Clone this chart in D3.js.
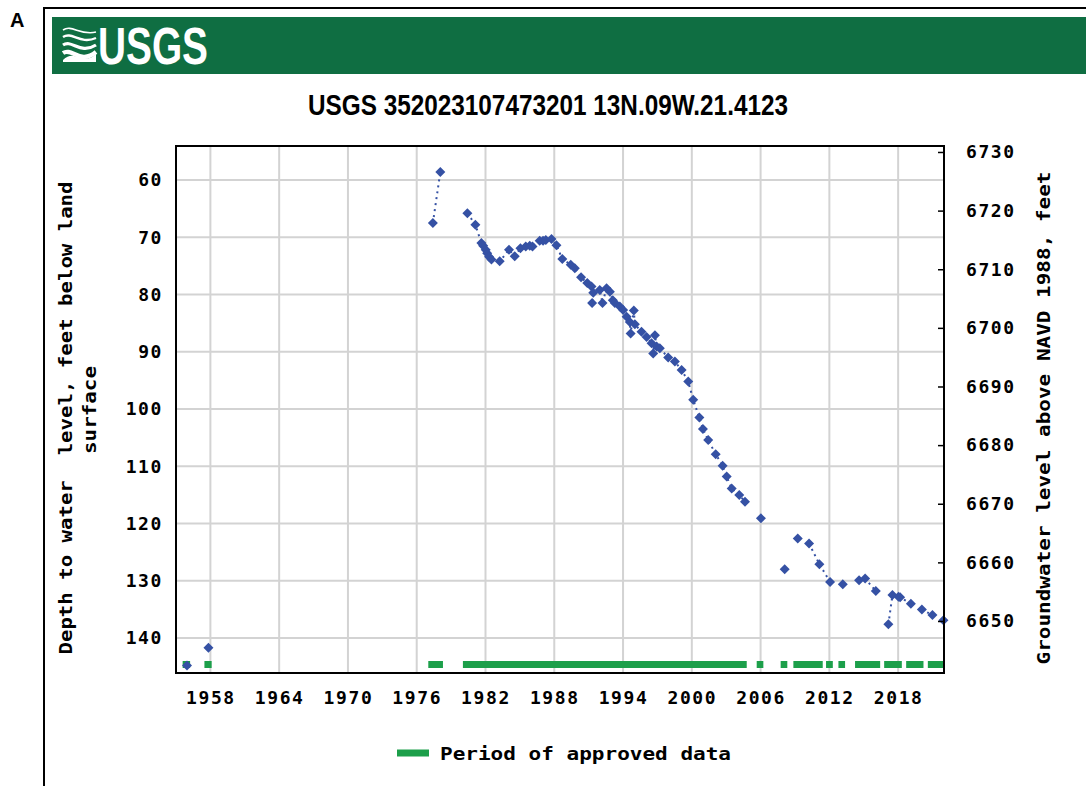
<!DOCTYPE html>
<html>
<head>
<meta charset="utf-8">
<style>
  body { margin: 0; background: #fff; }
  svg { display: block; }
</style>
</head>
<body>
<svg width="1086" height="786"></svg>
<script src="https://cdn.jsdelivr.net/npm/d3@7/dist/d3.min.js"></script>
<script>
// measurement dates (decimal years) and depth to water, feet below land surface
var years = [1955.96, 1957.83, 1977.41, 1978.06, 1980.42, 1981.12, 1981.64, 1981.80, 1982.02, 1982.15,
    1982.31, 1982.52, 1983.24, 1984.05, 1984.55, 1985.05, 1985.51, 1985.86, 1986.10, 1986.73,
    1987.02, 1987.26, 1987.76, 1988.19, 1988.70, 1989.44, 1989.79, 1990.34, 1990.88, 1991.25,
    1991.30, 1991.40, 1991.97, 1992.21, 1992.56, 1992.85, 1993.11, 1993.28, 1993.72, 1994.01,
    1994.31, 1994.59, 1994.66, 1994.94, 1995.03, 1995.61, 1996.05, 1996.49, 1996.63, 1996.78,
    1996.93, 1997.21, 1997.94, 1998.52, 1999.11, 1999.69, 2000.12, 2000.66, 2000.97, 2001.43,
    2002.08, 2002.69, 2003.04, 2003.48, 2004.14, 2004.64, 2006.03, 2008.10, 2009.24, 2010.23,
    2011.13, 2012.06, 2013.17, 2014.59, 2015.12, 2016.05, 2017.15, 2017.50, 2018.03, 2018.17,
    2019.11, 2020.07, 2020.99, 2021.95];
var depths = [144.8, 141.7, 67.5, 58.6, 65.8, 67.8, 71.0, 71.5, 72.2, 72.8,
    73.4, 73.9, 74.2, 72.2, 73.3, 71.9, 71.6, 71.5, 71.6, 70.6,
    70.6, 70.5, 70.3, 71.4, 73.8, 74.8, 75.4, 77.0, 78.0, 78.6,
    81.5, 79.7, 79.2, 81.5, 78.9, 79.5, 81.0, 81.5, 82.1, 82.7,
    83.9, 84.8, 86.8, 82.8, 85.2, 86.5, 87.4, 88.5, 90.3, 87.1,
    89.1, 89.4, 91.0, 91.7, 93.2, 95.2, 98.4, 101.5, 103.5, 105.4,
    107.9, 109.9, 111.8, 113.9, 115.0, 116.2, 119.1, 128.0, 122.6, 123.5,
    127.1, 130.2, 130.6, 129.9, 129.6, 131.8, 137.6, 132.5, 132.8, 132.9,
    134.0, 135.0, 136.0, 136.9];

// periods of approved data
var approvedStart = [1955.58, 1957.48, 1977.01, 1980.03, 2005.66, 2007.75, 2008.86, 2011.71, 2012.79, 2014.24, 2016.78, 2018.70, 2020.59];
var approvedEnd   = [1956.23, 1958.11, 1978.29, 2004.79, 2006.24, 2008.33, 2011.42, 2012.30, 2013.37, 2016.43, 2018.32, 2020.21, 2022.00];

var yearTicks = [1958, 1964, 1970, 1976, 1982, 1988, 1994, 2000, 2006, 2012, 2018];
var depthTicks = [60, 70, 80, 90, 100, 110, 120, 130, 140];
var altTicks = [6730, 6720, 6710, 6700, 6690, 6680, 6670, 6660, 6650];

var maxGap = 0.95; // years; no connecting line across longer gaps

var svg = d3.select("svg");
var blue = "#3551a4", green = "#1c9f4a", mono = "DejaVu Sans Mono, Liberation Mono, monospace";

var pLeft = 176, pRight = 944, pTop = 146, pBottom = 673;

var x = d3.scaleLinear().domain([1955, 2022]).range([pLeft, pRight]);
var y = d3.scaleLinear().domain([54.06, 146.11]).range([pTop, pBottom]);
var yAlt = d3.scaleLinear().domain([6731.02, 6641.13]).range([pTop, pBottom]);

// outer frame
svg.append("path").attr("d", "M44,786V8H1086").attr("fill", "none").attr("stroke", "#000").attr("stroke-width", 2);
svg.append("text").attr("x", 10).attr("y", 27).text("A")
    .style("font-family", "Liberation Sans, Arial, sans-serif").style("font-weight", "bold").style("font-size", "20px");

// USGS banner
svg.append("rect").attr("x", 52).attr("y", 17).attr("width", 1034).attr("height", 57).attr("fill", "#0f6e42");
var logo = svg.append("g").attr("fill", "none").attr("stroke", "#fff");
[[30, 1.6], [37, 2.4], [45, 3.2], [53, 4.2]].forEach(function(w, i) {
    logo.append("path")
        .attr("d", "M63," + w[0] + " C72," + (w[0] - 6) + " 80," + (w[0] + 6 + i * 2) + " 96," + (w[0] + 2 - i))
        .attr("stroke-width", w[1]);
});
logo.append("path").attr("d", "M63,62 L96,62 L96,54 C84,66 74,48 63,60 Z").attr("fill", "#fff").attr("stroke", "none");
svg.append("text").attr("x", 98).attr("y", 64).text("USGS")
    .attr("textLength", 110).attr("lengthAdjust", "spacingAndGlyphs")
    .attr("fill", "#fff").style("font-family", "Liberation Sans, Arial, sans-serif")
    .style("font-weight", "bold").style("font-size", "52px");

// title
svg.append("text").attr("x", 308).attr("y", 115).text("USGS 352023107473201 13N.09W.21.4123")
    .attr("textLength", 480).attr("lengthAdjust", "spacingAndGlyphs")
    .style("font-family", "Liberation Sans, Arial, sans-serif").style("font-weight", "bold").style("font-size", "30px");

// grid
var grid = svg.append("g").attr("stroke", "#d3d3d3").attr("stroke-width", 2);
grid.selectAll(".gx").data(yearTicks).enter().append("line")
    .attr("x1", d => x(d)).attr("x2", d => x(d)).attr("y1", pTop).attr("y2", pBottom);
grid.selectAll(".gy").data(depthTicks).enter().append("line")
    .attr("y1", d => y(d)).attr("y2", d => y(d)).attr("x1", pLeft).attr("x2", pRight);

// approved periods
svg.append("g").selectAll("rect").data(approvedStart).enter().append("rect")
    .attr("x", d => x(d)).attr("y", 661)
    .attr("width", (d, i) => x(approvedEnd[i]) - x(d)).attr("height", 7)
    .attr("fill", green);

// dotted connecting lines, broken at long gaps
var runs = [], run = [];
years.forEach(function(yr, i) {
    if (i > 0 && yr - years[i - 1] > maxGap) { runs.push(run); run = []; }
    run.push([yr, depths[i]]);
});
runs.push(run);
var line = d3.line().x(d => x(d[0])).y(d => y(d[1]));
svg.append("g").selectAll("path").data(runs.filter(r => r.length > 1)).enter().append("path")
    .attr("d", line).attr("fill", "none").attr("stroke", blue)
    .attr("stroke-width", 2).attr("stroke-dasharray", "2,4");

// measurements
var diamond = d3.symbol().type(d3.symbolSquare).size(50);
svg.append("g").selectAll("path").data(years).enter().append("path")
    .attr("d", diamond)
    .attr("transform", (d, i) => "translate(" + x(d) + "," + y(depths[i]) + ") rotate(45)")
    .attr("fill", blue);

// frame of plot
svg.append("rect").attr("x", pLeft).attr("y", pTop).attr("width", pRight - pLeft).attr("height", pBottom - pTop)
    .attr("fill", "none").attr("stroke", "#000").attr("stroke-width", 2);

// axes
function styleAxis(g) {
    g.select(".domain").remove();
    g.selectAll("text").style("font-family", mono).style("font-weight", "bold")
        .style("font-size", "18px").style("letter-spacing", "1.6px").attr("fill", "#000");
}
svg.append("g").attr("transform", "translate(0," + pBottom + ")")
    .call(d3.axisBottom(x).tickValues(yearTicks).tickFormat(d3.format("d")).tickSize(0).tickPadding(18))
    .call(styleAxis);
svg.append("g").attr("transform", "translate(" + pLeft + ",0)")
    .call(d3.axisLeft(y).tickValues(depthTicks).tickSize(0).tickPadding(13))
    .call(styleAxis);
svg.append("g").attr("transform", "translate(" + pRight + ",0)")
    .call(d3.axisRight(yAlt).tickValues(altTicks).tickFormat(d3.format("d")).tickSizeInner(-6).tickPadding(22))
    .call(styleAxis)
    .selectAll("line").attr("stroke", "#000").attr("stroke-width", 1.5);

// axis titles
function title(tx, ty, str, len) {
    svg.append("text").attr("transform", "translate(" + tx + "," + ty + ") rotate(-90)")
        .attr("text-anchor", "middle").text(str)
        .attr("textLength", len).attr("lengthAdjust", "spacingAndGlyphs")
        .style("white-space", "pre").style("font-family", mono).style("font-weight", "bold").style("font-size", "18px");
}
title(72, 418, "Depth to water  level, feet below land", 473);
title(96, 410, "surface", 88);
title(1050, 418, "Groundwater level above NAVD 1988, feet", 493);

// legend
svg.append("line").attr("x1", 397).attr("x2", 429).attr("y1", 753).attr("y2", 753)
    .attr("stroke", green).attr("stroke-width", 7);
svg.append("text").attr("x", 440).attr("y", 760).text("Period of approved data")
    .attr("textLength", 291).attr("lengthAdjust", "spacingAndGlyphs")
    .style("font-family", mono).style("font-weight", "bold").style("font-size", "18px");
</script>
</body>
</html>
